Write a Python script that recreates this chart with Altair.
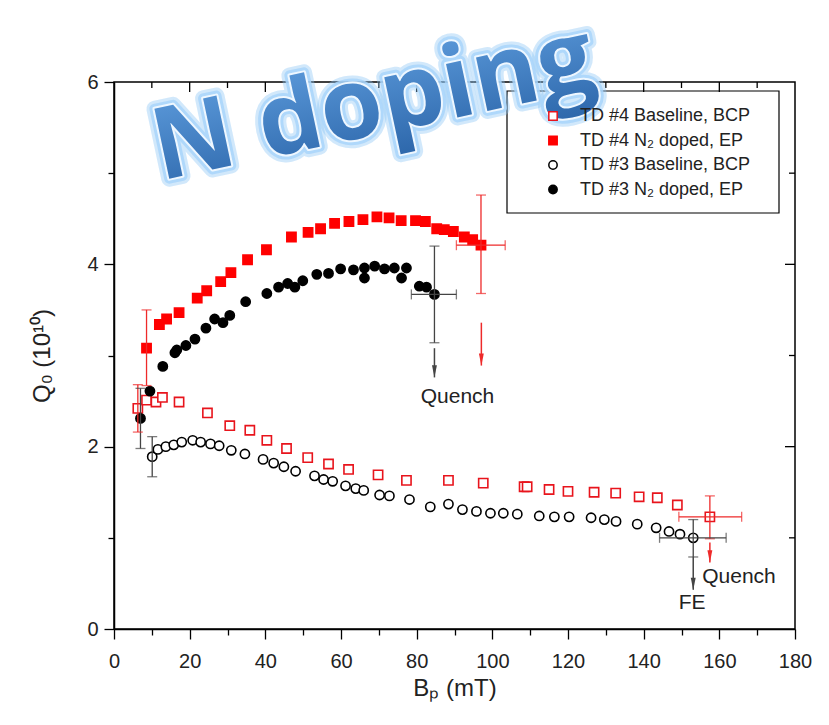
import altair as alt
import pandas as pd

# ---------------- data ----------------
series_names = ["TD #4 Baseline, BCP", "TD #4 N₂ doped, EP",
                "TD #3 Baseline, BCP", "TD #3 N₂ doped, EP"]

# TD #4 Baseline, BCP (red open squares)
ro_x = [6.3, 8.6, 11.1, 12.8, 17.2, 24.7, 30.6, 35.9, 40.4, 45.6, 51.2, 56.7, 62.0, 69.8, 77.3,
        88.4, 97.6, 108.4, 109.2, 115.0, 120.0, 126.9, 132.6, 138.8, 143.6, 148.9, 157.5]
ro_y = [2.42, 2.51, 2.49, 2.54, 2.49, 2.37, 2.23, 2.18, 2.07, 1.98, 1.88, 1.81, 1.75, 1.69, 1.63,
        1.63, 1.60, 1.56, 1.56, 1.53, 1.51, 1.50, 1.49, 1.45, 1.44, 1.36, 1.23]

# TD #4 N2 doped, EP (red filled squares)
rf_x = [8.6, 12.0, 13.9, 17.2, 22.0, 24.5, 28.2, 30.9, 35.3, 40.3, 46.9, 51.3, 54.6, 58.3, 62.1,
        65.8, 69.5, 72.7, 75.9, 79.7, 82.3, 85.3, 87.3, 89.7, 92.6, 94.8, 97.0]
rf_y = [3.08, 3.34, 3.40, 3.47, 3.63, 3.71, 3.81, 3.91, 4.05, 4.16, 4.30, 4.35, 4.39, 4.45, 4.47,
        4.49, 4.52, 4.51, 4.48, 4.48, 4.47, 4.39, 4.38, 4.36, 4.30, 4.27, 4.21]

# TD #3 Baseline, BCP (black open circles)
bo_x = [10.1, 11.6, 13.7, 15.8, 17.9, 20.8, 22.9, 25.5, 27.8, 31.0, 34.6, 39.4, 42.2, 44.9, 48.0,
        53.0, 55.4, 57.8, 61.2, 63.9, 66.0, 70.2, 72.8, 78.1, 83.6, 88.4, 92.1, 95.8, 99.5, 102.9,
        106.6, 112.4, 116.4, 120.3, 126.1, 129.6, 132.7, 138.3, 143.3, 146.7, 149.6, 153.1]
bo_y = [1.89, 1.97, 2.00, 2.02, 2.05, 2.07, 2.05, 2.03, 2.01, 1.96, 1.92, 1.86, 1.82, 1.78, 1.73,
        1.68, 1.64, 1.62, 1.57, 1.54, 1.52, 1.47, 1.46, 1.42, 1.34, 1.37, 1.31, 1.29, 1.27, 1.27,
        1.26, 1.24, 1.23, 1.23, 1.22, 1.20, 1.18, 1.15, 1.11, 1.07, 1.04, 1.00]

# TD #3 N2 doped, EP (black filled circles)
bf_x = [7.0, 9.5, 12.9, 16.1, 16.6, 19.0, 21.4, 24.3, 26.6, 28.8, 30.6, 34.8, 40.4, 43.5, 45.9,
        47.8, 49.9, 53.6, 56.7, 59.9, 63.3, 66.2, 66.2, 68.9, 71.5, 74.1, 76.0, 77.3, 80.7, 82.6, 84.7]
bf_y = [2.31, 2.61, 2.88, 3.03, 3.06, 3.11, 3.18, 3.30, 3.40, 3.36, 3.44, 3.59, 3.68, 3.75, 3.79,
        3.75, 3.82, 3.89, 3.90, 3.95, 3.94, 3.96, 3.85, 3.98, 3.95, 3.96, 3.85, 3.96, 3.76, 3.75, 3.67]

# vertical error bars
ve_x = [6.3, 8.6, 7.0, 10.1, 97.0, 84.7, 157.5, 153.1]
ve_lo = [2.16, 2.67, 1.98, 1.67, 3.68, 3.14, 0.99, 0.79]
ve_hi = [2.68, 3.50, 2.64, 2.11, 4.76, 4.20, 1.46, 1.20]
ve_grp = ["red", "red", "black", "black", "red", "black", "red", "black"]

# horizontal error bars
he_y = [4.21, 3.67, 1.23, 1.00]
he_lo = [90.5, 78.6, 149.3, 144.2]
he_hi = [103.4, 90.5, 165.9, 161.8]
he_grp = ["red", "black", "red", "black"]

# arrows
ar_x = [84.7, 97.1, 153.1, 157.5]
ar_top = [3.08, 3.36, 0.79, 0.95]
ar_bot = [2.76, 2.89, 0.43, 0.73]
ar_grp = ["black", "red", "black", "red"]

# annotations
an_text = ["Quench", "Quench", "FE"]
an_x = [90.8, 165.2, 152.8]
an_y = [2.54, 0.57, 0.29]

big_title = ["N doping"]
big_x = [12.3]
big_y = [4.92]

x_major = [20, 40, 60, 80, 100, 120, 140, 160]
x_minor = [10, 30, 50, 70, 90, 110, 130, 150, 170]
y_major = [2, 4]
y_minor = [1, 3, 5]

# ---------------- tables ----------------
pts = pd.concat([
    pd.DataFrame({"x": ro_x, "y": ro_y, "s": series_names[0]}),
    pd.DataFrame({"x": rf_x, "y": rf_y, "s": series_names[1]}),
    pd.DataFrame({"x": bo_x, "y": bo_y, "s": series_names[2]}),
    pd.DataFrame({"x": bf_x, "y": bf_y, "s": series_names[3]}),
], ignore_index=True)
ve = pd.DataFrame({"x": ve_x, "lo": ve_lo, "hi": ve_hi, "g": ve_grp})
ve_caps = pd.concat([ve.assign(y=ve["lo"]), ve.assign(y=ve["hi"])], ignore_index=True)
he = pd.DataFrame({"y": he_y, "lo": he_lo, "hi": he_hi, "g": he_grp})
he_caps = pd.concat([he.assign(x=he["lo"]), he.assign(x=he["hi"])], ignore_index=True)
ar = pd.DataFrame({"x": ar_x, "top": ar_top, "bot": ar_bot, "g": ar_grp})
an = pd.DataFrame({"t": an_text, "x": an_x, "y": an_y})
bt = pd.DataFrame({"t": big_title, "x": big_x, "y": big_y})

W, H = 681, 547
FONT = "Liberation Sans"
XS = alt.Scale(domain=[0, 180], nice=False, zero=False)
YS = alt.Scale(domain=[0, 6], nice=False, zero=False)

x_axis = alt.Axis(values=list(range(0, 181, 10)),
                  labelExpr="datum.value % 20 === 0 ? datum.label : ''",
                  tickSize={"condition": {"test": "datum.value % 20 === 0", "value": 10}, "value": 6},
                  labelFont=FONT, labelFontSize=20, labelColor="#222", labelPadding=12,
                  labelFlush=False, title="Bₚ (mT)", titleFont=FONT, titleFontSize=24,
                  titleFontWeight="normal", titleColor="#222", titlePadding=5,
                  grid=False, domainColor="black", domainWidth=1.5, tickColor="black", tickWidth=1.3)
y_axis = alt.Axis(values=[0, 1, 2, 3, 4, 5, 6],
                  labelExpr="datum.value % 2 === 0 ? datum.label : ''",
                  tickSize={"condition": {"test": "datum.value % 2 === 0", "value": 10}, "value": 6},
                  labelFont=FONT, labelFontSize=20, labelColor="#222", labelPadding=6,
                  labelFlush=False, title="Q₀ (10¹⁰)", titleFont=FONT, titleFontSize=24,
                  titleFontWeight="normal", titleColor="#222", titlePadding=32,
                  grid=False, domainColor="black", domainWidth=1.5, tickColor="black", tickWidth=1.3)


def X(f):
    return alt.X(f"{f}:Q", scale=XS, axis=x_axis)


def Y(f):
    return alt.Y(f"{f}:Q", scale=YS, axis=y_axis)


grp_scale = alt.Scale(domain=["red", "black"], range=["#ee2a2a", "#444444"])

legend = alt.Legend(orient="none", legendX=430, legendY=25, title=None, labelFont=FONT,
                    labelFontSize=18, labelColor="#222", symbolStrokeWidth=1.5, rowPadding=6.5,
                    labelOffset=18, padding=0, symbolSize=70, labelLimit=400)

# scatter points (first, so that the axes come from here)
pts_layer = alt.Chart(pts).mark_point(filled=True, size=85, strokeWidth=1.6, opacity=1).encode(
    x=X("x"), y=Y("y"),
    shape=alt.Shape("s:N", scale=alt.Scale(domain=series_names, range=["square", "square", "circle", "circle"]), legend=legend),
    fill=alt.Fill("s:N", scale=alt.Scale(domain=series_names, range=["white", "#ff0000", "white", "#000000"]), legend=legend),
    stroke=alt.Stroke("s:N", scale=alt.Scale(domain=series_names, range=["#e8141c", "#ff0000", "#000000", "#000000"]), legend=legend),
)

# legend box
box = alt.Chart(pd.DataFrame({"a": [0]})).mark_rect(fill="white", stroke="black", strokeWidth=1.2).encode(
    x=alt.value(393), x2=alt.value(665), y=alt.value(9), y2=alt.value(131))

# top / right inward ticks
top_major = alt.Chart(pd.DataFrame({"x": x_major})).mark_rule(color="black", strokeWidth=1.3).encode(
    x=X("x"), y=alt.value(0), y2=alt.value(10))
top_minor = alt.Chart(pd.DataFrame({"x": x_minor})).mark_rule(color="black", strokeWidth=1.3).encode(
    x=X("x"), y=alt.value(0), y2=alt.value(6))
right_major = alt.Chart(pd.DataFrame({"y": y_major})).mark_rule(color="black", strokeWidth=1.3).encode(
    y=Y("y"), x=alt.value(W - 10), x2=alt.value(W))
right_minor = alt.Chart(pd.DataFrame({"y": y_minor})).mark_rule(color="black", strokeWidth=1.3).encode(
    y=Y("y"), x=alt.value(W - 6), x2=alt.value(W))

# error bars
vbar = alt.Chart(ve).mark_rule(strokeWidth=1.3).encode(
    x=X("x"), y=Y("lo"), y2="hi:Q",
    color=alt.Color("g:N", scale=grp_scale, legend=None))
vcap = alt.Chart(ve_caps).mark_tick(orient="horizontal", size=10, thickness=1.3).encode(
    x=X("x"), y=Y("y"),
    color=alt.Color("g:N", scale=grp_scale, legend=None))
hbar = alt.Chart(he).mark_rule(strokeWidth=1.3).encode(
    y=Y("y"), x=X("lo"), x2="hi:Q",
    color=alt.Color("g:N", scale=grp_scale, legend=None))
hcap = alt.Chart(he_caps).mark_tick(orient="vertical", size=10, thickness=1.3).encode(
    x=X("x"), y=Y("y"),
    color=alt.Color("g:N", scale=grp_scale, legend=None))

arrow_scale = alt.Scale(domain=["red", "black"], range=["#ff0000", "#000000"])
ashaft = alt.Chart(ar).mark_rule(strokeWidth=1.5).encode(
    x=X("x"), y=Y("top"), y2="bot:Q",
    color=alt.Color("g:N", scale=arrow_scale, legend=None))
ahead = alt.Chart(ar).mark_point(shape="M-0.4,-1L0.4,-1L0,1Z", size=150, filled=True, opacity=1, yOffset=-6).encode(
    x=X("x"), y=Y("bot"),
    color=alt.Color("g:N", scale=arrow_scale, legend=None))

annot = alt.Chart(an).mark_text(font=FONT, fontSize=21, color="#222", align="center", baseline="middle").encode(
    x=X("x"), y=Y("y"), text="t:N")

# big "N doping" word-art
big_common = dict(font="Open Sans", fontWeight="bold", fontSize=100,
                  angle=348, align="left", baseline="alphabetic")


def big(**kw):
    return alt.Chart(bt).mark_text(**big_common, **kw).encode(
        x=X("x"), y=Y("y"), text="t:N")


glow1 = big(fill="#8cc6f5", stroke="#8cc6f5", strokeWidth=16, strokeOpacity=0.4, fillOpacity=0.4, strokeJoin="round")
glow2 = big(fill="#a9d5fa", stroke="#a9d5fa", strokeWidth=10, strokeOpacity=0.85, strokeJoin="round")
glow3 = big(fill="#eef7ff", stroke="#eef7ff", strokeWidth=4, strokeJoin="round")
face = big(fill=alt.LinearGradient(gradient="linear",
                                   stops=[alt.GradientStop(color="#63a2e2", offset=0),
                                          alt.GradientStop(color="#2c66aa", offset=1)],
                                   x1=0, x2=0, y1=0, y2=1))

chart = alt.layer(
    pts_layer, box, top_major, top_minor, right_major, right_minor,
    vbar, vcap, hbar, hcap, ashaft, ahead, annot,
    glow1, glow2, glow3, face,
).properties(
    width=W, height=H, autosize="none",
    padding={"left": 114, "top": 82, "right": 34, "bottom": 96},
    background="white",
).configure_view(stroke="black", strokeWidth=1.5)

chart.save("out.html", embed_options={"renderer": "svg", "actions": False})
